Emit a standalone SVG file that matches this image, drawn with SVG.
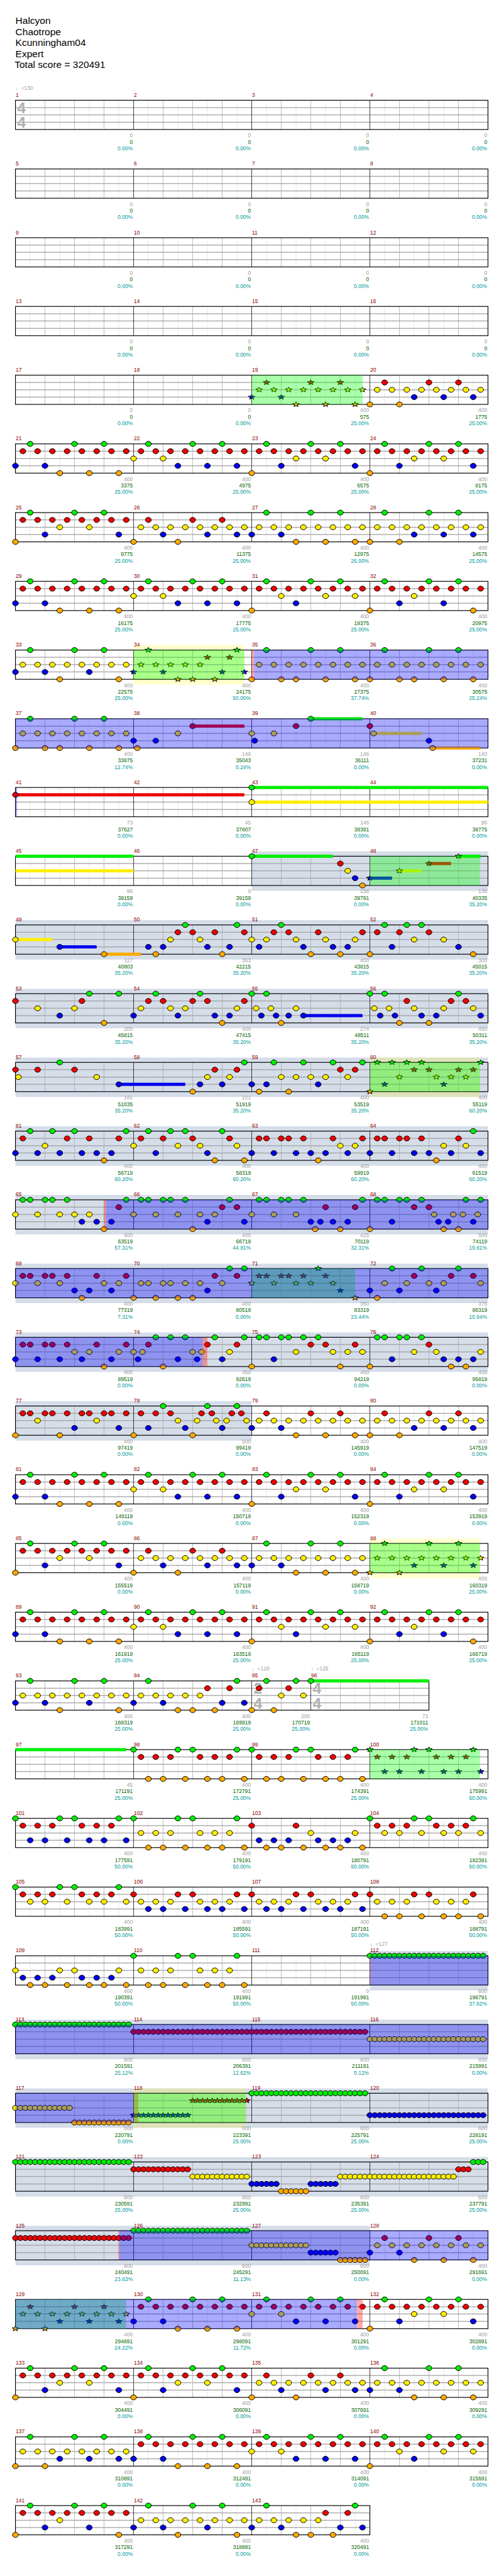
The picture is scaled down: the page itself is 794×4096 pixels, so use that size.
<svg xmlns="http://www.w3.org/2000/svg" width="794" height="4096" viewBox="0 0 794 4096">
<style>
text{font-family:"Liberation Sans",Arial,sans-serif;font-size:11px}
.h{font-size:20px;fill:#000}
.mn{fill:#8b0000}
.s1{fill:#a0a0a0;text-anchor:end}
.s2{fill:#006400;text-anchor:end}
.s3{fill:#009999;text-anchor:end}
.tp{fill:#a0a0a0;font-family:"Liberation Sans","DejaVu Sans",sans-serif}
.ts{font-size:32px;font-weight:bold;fill:#b0b0b0}
.l8{stroke:#e2e2e2;fill:none}
.lb{stroke:#a8a8a8;fill:none}
.ln{stroke:#a0a0a0;stroke-width:1.6;fill:none}
.ml{stroke:#000;fill:none}
.bd{fill:none;stroke:#000;stroke-width:1.5}
.gb{fill:#d5dde9}
.yl{fill:#ff0;fill-opacity:.2}
.gr{fill:#0f0;fill-opacity:.333}
.bl{fill:#00f;fill-opacity:.333}
.pk{fill:#f00;fill-opacity:.333}
</style>
<defs>
<ellipse id="n" rx=".3958" ry="5.2" stroke="#000" vector-effect="non-scaling-stroke"/>
<polygon id="s" points="0,-5.5 .1187,-1.9 .4617,-1.7 .1913,.7 .2836,4.5 0,2.4 -.2836,4.5 -.1913,.7 -.4617,-1.7 -.1187,-1.9" stroke="#000" vector-effect="non-scaling-stroke"/>
<use id="G" href="#n" fill="#0e0"/>
<use id="R" href="#n" y="15" fill="#e00"/>
<use id="Y" href="#n" y="30" fill="#fe0"/>
<use id="B" href="#n" y="45" fill="#00e"/>
<use id="O" href="#n" y="60" fill="#fa0"/>
<use id="SG" href="#s" fill="#0e0"/>
<use id="SR" href="#s" y="15" fill="#e00"/>
<use id="SY" href="#s" y="30" fill="#fe0"/>
<use id="SB" href="#s" y="45" fill="#00e"/>
<use id="SO" href="#s" y="60" fill="#fa0"/>
<g id="o8"><use href="#n" x="1"/><use href="#n" x="3"/><use href="#n" x="5"/><use href="#n" x="7"/><use href="#n" x="9"/><use href="#n" x="11"/><use href="#n" x="13"/><use href="#n" x="15"/></g>
<g id="so8"><use href="#s" x="1"/><use href="#s" x="3"/><use href="#s" x="5"/><use href="#s" x="7"/><use href="#s" x="9"/><use href="#s" x="11"/><use href="#s" x="13"/><use href="#s" x="15"/></g>
<g id="gp"><use href="#n" x="2"/><use href="#n" x="8"/><use href="#n" x="12"/></g>
<g id="gp4"><use href="#gp"/><use href="#gp" x="16"/><use href="#gp" x="32"/><use href="#gp" x="48"/></g>
<g id="o32"><use href="#o8"/><use href="#o8" x="16"/><use href="#o8" x="32"/><use href="#o8" x="48"/></g>
<g id="q4"><use href="#n"/><use href="#n" x="6"/><use href="#n" x="8"/><use href="#n" x="14"/></g>
<g id="k6"><use href="#n" x="1"/><use href="#n" x="3"/><use href="#n" x="5"/><use href="#n" x="9"/><use href="#n" x="11"/><use href="#n" x="13"/></g>
<g id="h6"><use href="#n" x="2"/><use href="#n" x="4"/><use href="#n" x="7"/><use href="#n" x="10"/><use href="#n" x="12"/><use href="#n" x="15"/></g>
<g id="sq4"><use href="#s"/><use href="#s" x="6"/><use href="#s" x="8"/><use href="#s" x="14"/></g>
<g id="sk6"><use href="#s" x="1"/><use href="#s" x="3"/><use href="#s" x="5"/><use href="#s" x="9"/><use href="#s" x="11"/><use href="#s" x="13"/></g>
<g id="sh6"><use href="#s" x="2"/><use href="#s" x="4"/><use href="#s" x="7"/><use href="#s" x="10"/><use href="#s" x="12"/><use href="#s" x="15"/></g>
<g id="t6"><use href="#n"/><use href="#n" x=".6667"/><use href="#n" x="1.3333"/><use href="#n" x="2"/><use href="#n" x="2.6667"/><use href="#n" x="3.3333"/></g>
<g id="t12"><use href="#t6"/><use href="#t6" x="4"/></g>
<g id="t24"><use href="#t12"/><use href="#t12" x="8"/></g>
<g id="st6"><use href="#s"/><use href="#s" x=".6667"/><use href="#s" x="1.3333"/><use href="#s" x="2"/><use href="#s" x="2.6667"/><use href="#s" x="3.3333"/></g>
<g id="st12"><use href="#st6"/><use href="#st6" x="4"/></g>
<g id="M"><path class="l8" d="M30.3 0V60M91 0V60M151.6 0V60M212.3 0V60"/><path class="lb" d="M60.6 0V60M121.3 0V60M181.9 0V60"/></g>
<g id="row"><use href="#M" x="31.7"/><use href="#M" x="274.3"/><use href="#M" x="516.8"/><use href="#M" x="759.4"/><path class="ln" d="M31.7 15H1001.9M31.7 30H1001.9M31.7 45H1001.9"/><path class="ml" d="M274.3 0V60M516.8 0V60M759.4 0V60"/><rect class="bd" x="31.7" y="0" width="970.2" height="60"/></g>
</defs>
<rect width="794" height="4096" fill="#fff"/>
<g transform="scale(0.775)">
<g id="header">
<text class="h" x="31.7" y="49">Halcyon</text>
<text class="h" x="31.7" y="71.7">Chaotrope</text>
<text class="h" x="31.7" y="94.3">Kcunningham04</text>
<text class="h" x="31.7" y="117">Expert</text>
<text class="h" x="30" y="139.7">Total score = 320491</text>
</g>

<g id="row1" transform="translate(0 205.7)">
<use href="#row"/>
<text class="ts" x="35" y="26.5">4</text><text class="ts" x="35" y="56.5">4</text>
<text class="tp" x="32" y="-21">♩=130</text>
<text class="mn" y="-7"><tspan x="32.2">1</tspan><tspan x="274.8">2</tspan><tspan x="517.3">3</tspan><tspan x="759.9">4</tspan></text>
<text class="s1" y="76"><tspan x="272.6">0</tspan><tspan x="515.1">0</tspan><tspan x="757.7">0</tspan><tspan x="1000.2">0</tspan></text>
<text class="s2" y="89.5"><tspan x="272.6">0</tspan><tspan x="515.1">0</tspan><tspan x="757.7">0</tspan><tspan x="1000.2">0</tspan></text>
<text class="s3" y="102.8"><tspan x="272.6">0.00%</tspan><tspan x="515.1">0.00%</tspan><tspan x="757.7">0.00%</tspan><tspan x="1000.2">0.00%</tspan></text>
</g>

<g id="row2" transform="translate(0 346.7)">
<use href="#row"/>
<text class="mn" y="-7"><tspan x="32.2">5</tspan><tspan x="274.8">6</tspan><tspan x="517.3">7</tspan><tspan x="759.9">8</tspan></text>
<text class="s1" y="76"><tspan x="272.6">0</tspan><tspan x="515.1">0</tspan><tspan x="757.7">0</tspan><tspan x="1000.2">0</tspan></text>
<text class="s2" y="89.5"><tspan x="272.6">0</tspan><tspan x="515.1">0</tspan><tspan x="757.7">0</tspan><tspan x="1000.2">0</tspan></text>
<text class="s3" y="102.8"><tspan x="272.6">0.00%</tspan><tspan x="515.1">0.00%</tspan><tspan x="757.7">0.00%</tspan><tspan x="1000.2">0.00%</tspan></text>
</g>

<g id="row3" transform="translate(0 487.7)">
<use href="#row"/>
<text class="mn" y="-7"><tspan x="32.2">9</tspan><tspan x="274.8">10</tspan><tspan x="517.3">11</tspan><tspan x="759.9">12</tspan></text>
<text class="s1" y="76"><tspan x="272.6">0</tspan><tspan x="515.1">0</tspan><tspan x="757.7">0</tspan><tspan x="1000.2">0</tspan></text>
<text class="s2" y="89.5"><tspan x="272.6">0</tspan><tspan x="515.1">0</tspan><tspan x="757.7">0</tspan><tspan x="1000.2">0</tspan></text>
<text class="s3" y="102.8"><tspan x="272.6">0.00%</tspan><tspan x="515.1">0.00%</tspan><tspan x="757.7">0.00%</tspan><tspan x="1000.2">0.00%</tspan></text>
</g>

<g id="row4" transform="translate(0 628.7)">
<use href="#row"/>
<text class="mn" y="-7"><tspan x="32.2">13</tspan><tspan x="274.8">14</tspan><tspan x="517.3">15</tspan><tspan x="759.9">16</tspan></text>
<text class="s1" y="76"><tspan x="272.6">0</tspan><tspan x="515.1">0</tspan><tspan x="757.7">0</tspan><tspan x="1000.2">0</tspan></text>
<text class="s2" y="89.5"><tspan x="272.6">0</tspan><tspan x="515.1">0</tspan><tspan x="757.7">0</tspan><tspan x="1000.2">0</tspan></text>
<text class="s3" y="102.8"><tspan x="272.6">0.00%</tspan><tspan x="515.1">0.00%</tspan><tspan x="757.7">0.00%</tspan><tspan x="1000.2">0.00%</tspan></text>
</g>

<g id="row5" transform="translate(0 769.7)">
<use href="#row"/>
<g transform="translate(31.7 0) scale(15.16 1)">
<use href="#SB" x="32"/><use href="#so8" x="32" y="30" fill="#fe0"/><use href="#SR" x="34"/><use href="#SB" x="36"/><use href="#SO" x="38"/><use href="#SR" x="40"/><use href="#SO" x="42"/><use href="#SR" x="44"/><use href="#SO" x="46"/>
<use href="#O" x="48"/><use href="#o8" x="48" y="30" fill="#fe0"/><use href="#R" x="50"/><use href="#O" x="52"/><use href="#B" x="54"/><use href="#R" x="56"/><use href="#B" x="58"/><use href="#R" x="60"/><use href="#B" x="62"/>
</g>
<rect class="gr" x="516.8" y="0" width="227.8" height="60"/>
<text class="mn" y="-7"><tspan x="32.2">17</tspan><tspan x="274.8">18</tspan><tspan x="517.3">19</tspan><tspan x="759.9">20</tspan></text>
<text class="s1" y="76"><tspan x="272.6">0</tspan><tspan x="515.1">0</tspan><tspan x="757.7">400</tspan><tspan x="1000.2">400</tspan></text>
<text class="s2" y="89.5"><tspan x="272.6">0</tspan><tspan x="515.1">0</tspan><tspan x="757.7">575</tspan><tspan x="1000.2">1775</tspan></text>
<text class="s3" y="102.8"><tspan x="272.6">0.00%</tspan><tspan x="515.1">0.00%</tspan><tspan x="757.7">25.00%</tspan><tspan x="1000.2">25.00%</tspan></text>
</g>

<g id="row6" transform="translate(0 910.7)">
<use href="#row"/>
<g transform="translate(31.7 0) scale(15.16 1)">
<g id="N5"><use href="#gp4" fill="#0e0"/><use href="#o32" y="15" fill="#e00"/><use href="#Y" x="16"/><use href="#Y" x="20"/><use href="#Y" x="38"/><use href="#Y" x="42"/><use href="#Y" x="54"/><use href="#Y" x="58"/><use href="#B"/><use href="#B" x="4"/><use href="#B" x="22"/><use href="#B" x="26"/><use href="#B" x="30"/><use href="#B" x="36"/><use href="#B" x="46"/><use href="#B" x="52"/><use href="#B" x="62"/><use href="#O" x="6"/><use href="#O" x="10"/><use href="#O" x="14"/><use href="#O" x="32"/><use href="#O" x="48"/></g>
</g>
<text class="mn" y="-7"><tspan x="32.2">21</tspan><tspan x="274.8">22</tspan><tspan x="517.3">23</tspan><tspan x="759.9">24</tspan></text>
<text class="s1" y="76"><tspan x="272.6">400</tspan><tspan x="515.1">400</tspan><tspan x="757.7">400</tspan><tspan x="1000.2">400</tspan></text>
<text class="s2" y="89.5"><tspan x="272.6">3375</tspan><tspan x="515.1">4975</tspan><tspan x="757.7">6575</tspan><tspan x="1000.2">8175</tspan></text>
<text class="s3" y="102.8"><tspan x="272.6">25.00%</tspan><tspan x="515.1">25.00%</tspan><tspan x="757.7">25.00%</tspan><tspan x="1000.2">25.00%</tspan></text>
</g>

<g id="row7" transform="translate(0 1051.7)">
<use href="#row"/>
<g transform="translate(31.7 0) scale(15.16 1)">
<g id="N6a"><use href="#gp" fill="#0e0"/><use href="#gp" x="32" fill="#0e0"/><use href="#o8" y="15" fill="#e00"/><use href="#R" x="18"/><use href="#R" x="24"/><use href="#R" x="28"/><use href="#Y" x="6"/><use href="#Y" x="10"/><use href="#o8" x="16" y="30" fill="#fe0"/><use href="#o8" x="32" y="30" fill="#fe0"/><use href="#B" x="4"/><use href="#B" x="14"/><use href="#B" x="20"/><use href="#B" x="26"/><use href="#B" x="30"/><use href="#B" x="32"/><use href="#B" x="36"/><use href="#O"/><use href="#O" x="16"/><use href="#O" x="22"/><use href="#O" x="38"/><use href="#O" x="42"/><use href="#O" x="46"/></g>
<use href="#gp" x="48" fill="#0e0"/><use href="#o8" x="48" y="30" fill="#fe0"/><use href="#B" x="54"/><use href="#B" x="58"/><use href="#B" x="62"/><use href="#O" x="48"/><use href="#O" x="52"/>
</g>
<text class="mn" y="-7"><tspan x="32.2">25</tspan><tspan x="274.8">26</tspan><tspan x="517.3">27</tspan><tspan x="759.9">28</tspan></text>
<text class="s1" y="76"><tspan x="272.6">400</tspan><tspan x="515.1">400</tspan><tspan x="757.7">400</tspan><tspan x="1000.2">400</tspan></text>
<text class="s2" y="89.5"><tspan x="272.6">9775</tspan><tspan x="515.1">11375</tspan><tspan x="757.7">12975</tspan><tspan x="1000.2">14575</tspan></text>
<text class="s3" y="102.8"><tspan x="272.6">25.00%</tspan><tspan x="515.1">25.00%</tspan><tspan x="757.7">25.00%</tspan><tspan x="1000.2">25.00%</tspan></text>
</g>

<g id="row8" transform="translate(0 1192.7)">
<use href="#row"/>
<g transform="translate(31.7 0) scale(15.16 1)">
<g id="N7"><use href="#gp4" fill="#0e0"/><use href="#o32" y="15" fill="#e00"/><use href="#Y" x="16"/><use href="#Y" x="20"/><use href="#Y" x="36"/><use href="#Y" x="42"/><use href="#Y" x="46"/><use href="#Y" x="54"/><use href="#B"/><use href="#B" x="4"/><use href="#B" x="22"/><use href="#B" x="26"/><use href="#B" x="30"/><use href="#B" x="38"/><use href="#B" x="52"/><use href="#B" x="58"/><use href="#O" x="6"/><use href="#O" x="10"/><use href="#O" x="14"/><use href="#O" x="32"/><use href="#O" x="48"/><use href="#O" x="62"/></g>
</g>
<text class="mn" y="-7"><tspan x="32.2">29</tspan><tspan x="274.8">30</tspan><tspan x="517.3">31</tspan><tspan x="759.9">32</tspan></text>
<text class="s1" y="76"><tspan x="272.6">400</tspan><tspan x="515.1">400</tspan><tspan x="757.7">400</tspan><tspan x="1000.2">400</tspan></text>
<text class="s2" y="89.5"><tspan x="272.6">16175</tspan><tspan x="515.1">17775</tspan><tspan x="757.7">19375</tspan><tspan x="1000.2">20975</tspan></text>
<text class="s3" y="102.8"><tspan x="272.6">25.00%</tspan><tspan x="515.1">25.00%</tspan><tspan x="757.7">25.00%</tspan><tspan x="1000.2">25.00%</tspan></text>
</g>

<g id="row9" transform="translate(0 1333.7)">
<rect class="yl" x="274.3" y="-10.5" width="227.4" height="81.5"/>
<use href="#row"/>
<g transform="translate(31.7 0) scale(15.16 1)">
<use href="#gp" fill="#0e0"/><use href="#o8" y="30" fill="#fe0"/><use href="#B"/><use href="#B" x="4"/><use href="#B" x="10"/><use href="#O" x="6"/><use href="#O" x="14"/>
<use href="#SB" x="16"/><use href="#SY" x="17"/><use href="#SG" x="18"/><use href="#SY" x="19"/><use href="#SB" x="20"/><use href="#SY" x="21"/><use href="#SO" x="22"/><use href="#SY" x="23"/><use href="#SO" x="24"/><use href="#SY" x="25"/><use href="#SR" x="26"/><use href="#SO" x="27"/><use href="#SB" x="28"/><use href="#SR" x="29"/><use href="#SG" x="30"/><use href="#SB" x="31"/>
<use href="#gp" x="32" fill="#0e0"/><use href="#gp" x="48" fill="#0e0"/><use href="#o8" x="32" y="30" fill="#fe0"/><use href="#o8" x="48" y="30" fill="#fe0"/><use href="#O" x="32"/><use href="#O" x="36"/><use href="#O" x="38"/><use href="#O" x="42"/><use href="#O" x="46"/><use href="#O" x="48"/><use href="#O" x="52"/><use href="#O" x="54"/><use href="#O" x="58"/><use href="#O" x="62"/>
</g>
<rect class="gr" x="274.3" y="0" width="227.4" height="60"/>
<rect class="pk" x="516.8" y="0" width="4.7" height="60"/>
<rect class="bl" x="521.5" y="0" width="480.4" height="60"/>
<text class="mn" y="-7"><tspan x="32.2">33</tspan><tspan x="274.8">34</tspan><tspan x="517.3">35</tspan><tspan x="759.9">36</tspan></text>
<text class="s1" y="76"><tspan x="272.6">400</tspan><tspan x="515.1">400</tspan><tspan x="757.7">400</tspan><tspan x="1000.2">400</tspan></text>
<text class="s2" y="89.5"><tspan x="272.6">22575</tspan><tspan x="515.1">24175</tspan><tspan x="757.7">27375</tspan><tspan x="1000.2">30575</tspan></text>
<text class="s3" y="102.8"><tspan x="272.6">25.00%</tspan><tspan x="515.1">50.00%</tspan><tspan x="757.7">37.74%</tspan><tspan x="1000.2">25.24%</tspan></text>
</g>

<g id="row10" transform="translate(0 1474.7)">
<use href="#row"/>
<g transform="translate(31.7 0) scale(15.16 1)">
<rect x="40" y="-3.25" width="7" height="6.5" fill="#0e0"/><rect x="24" y="11.75" width="7" height="6.5" fill="#e00"/><rect x="48.5" y="26.75" width="6.5" height="6.5" fill="#fe0"/><rect x="56.5" y="56.75" width="6.5" height="6.5" fill="#fa0"/>
<use href="#gp" fill="#0e0"/><use href="#G" x="40"/><use href="#R" x="24"/><use href="#R" x="38"/><use href="#R" x="48"/><use href="#o8" y="30" fill="#fe0"/><use href="#Y" x="22"/><use href="#Y" x="32"/><use href="#Y" x="35"/><use href="#Y" x="48.5"/><use href="#B" x="16"/><use href="#B" x="19"/><use href="#B" x="32.4"/><use href="#B" x="56"/><use href="#O"/><use href="#O" x="4"/><use href="#O" x="6"/><use href="#O" x="10"/><use href="#O" x="14"/><use href="#O" x="16.5"/><use href="#O" x="56.5"/>
</g>
<rect class="bl" x="31.7" y="0" width="970.2" height="60"/>
<text class="mn" y="-7"><tspan x="32.2">37</tspan><tspan x="274.8">38</tspan><tspan x="517.3">39</tspan><tspan x="759.9">40</tspan></text>
<text class="s1" y="76"><tspan x="272.6">400</tspan><tspan x="515.1">146</tspan><tspan x="757.7">146</tspan><tspan x="1000.2">140</tspan></text>
<text class="s2" y="89.5"><tspan x="272.6">33875</tspan><tspan x="515.1">35043</tspan><tspan x="757.7">36111</tspan><tspan x="1000.2">37231</tspan></text>
<text class="s3" y="102.8"><tspan x="272.6">12.74%</tspan><tspan x="515.1">0.24%</tspan><tspan x="757.7">0.00%</tspan><tspan x="1000.2">0.00%</tspan></text>
</g>

<g id="row11" transform="translate(0 1615.7)">
<use href="#row"/>
<g transform="translate(31.7 0) scale(15.16 1)">
<rect x="0" y="11.75" width="31" height="6.5" fill="#e00"/><rect x="32" y="-3.25" width="32" height="6.5" fill="#0e0"/><rect x="32" y="26.75" width="32" height="6.5" fill="#fe0"/>
<use href="#R"/><use href="#G" x="32"/><use href="#Y" x="32"/>
</g>
<rect class="bl" x="31.7" y="0" width="3.3" height="60"/>
<text class="mn" y="-7"><tspan x="32.2">41</tspan><tspan x="274.8">42</tspan><tspan x="517.3">43</tspan><tspan x="759.9">44</tspan></text>
<text class="s1" y="76"><tspan x="272.6">73</tspan><tspan x="515.1">45</tspan><tspan x="757.7">146</tspan><tspan x="1000.2">96</tspan></text>
<text class="s2" y="89.5"><tspan x="272.6">37627</tspan><tspan x="515.1">37807</tspan><tspan x="757.7">38391</tspan><tspan x="1000.2">38775</tspan></text>
<text class="s3" y="102.8"><tspan x="272.6">0.00%</tspan><tspan x="515.1">0.00%</tspan><tspan x="757.7">0.00%</tspan><tspan x="1000.2">0.00%</tspan></text>
</g>

<g id="row12" transform="translate(0 1756.7)">
<rect class="gb" x="516.8" y="-10" width="485.1" height="81"/>
<use href="#row"/>
<g transform="translate(31.7 0) scale(15.16 1)">
<rect x="0" y="-3.25" width="16" height="6.5" fill="#0e0"/><rect x="0" y="26.75" width="16" height="6.5" fill="#fe0"/><rect x="32" y="-3.25" width="11" height="6.5" fill="#0e0"/><rect x="48" y="41.75" width="3" height="6.5" fill="#00e"/><rect x="52" y="26.75" width="3" height="6.5" fill="#fe0"/><rect x="56" y="11.75" width="3" height="6.5" fill="#e00"/><rect x="60" y="-3.25" width="3" height="6.5" fill="#0e0"/>
<use href="#G" x="32"/><use href="#R" x="44"/><use href="#Y" x="45"/><use href="#B" x="46"/><use href="#O" x="47"/><use href="#SB" x="48"/><use href="#SY" x="52"/><use href="#SR" x="56"/><use href="#SG" x="60"/>
</g>
<rect class="gr" x="759.4" y="0" width="226.1" height="60"/>
<text class="mn" y="-7"><tspan x="32.2">45</tspan><tspan x="274.8">46</tspan><tspan x="517.3">47</tspan><tspan x="759.9">48</tspan></text>
<text class="s1" y="76"><tspan x="272.6">96</tspan><tspan x="515.1">0</tspan><tspan x="757.7">158</tspan><tspan x="1000.2">136</tspan></text>
<text class="s2" y="89.5"><tspan x="272.6">39159</tspan><tspan x="515.1">39159</tspan><tspan x="757.7">39791</tspan><tspan x="1000.2">40335</tspan></text>
<text class="s3" y="102.8"><tspan x="272.6">0.00%</tspan><tspan x="515.1">0.00%</tspan><tspan x="757.7">0.00%</tspan><tspan x="1000.2">35.20%</tspan></text>
</g>

<g id="row13" transform="translate(0 1897.7)">
<rect class="gb" x="31.7" y="-10" width="970.2" height="81"/>
<use href="#row"/>
<g transform="translate(31.7 0) scale(15.16 1)">
<rect x="0" y="26.75" width="5" height="6.5" fill="#fe0"/><rect x="6" y="41.75" width="5" height="6.5" fill="#00e"/><rect x="12" y="56.75" width="5" height="6.5" fill="#fa0"/>
<use href="#G" x="23"/><use href="#G" x="30"/><use href="#G" x="36"/><use href="#G" x="50"/><use href="#G" x="53"/><use href="#G" x="55"/>
<use href="#R" x="22"/><use href="#R" x="24"/><use href="#R" x="27"/><use href="#R" x="31"/><use href="#R" x="35"/><use href="#R" x="37"/><use href="#R" x="41"/><use href="#R" x="47"/><use href="#R" x="49"/><use href="#R" x="52"/><use href="#R" x="56"/>
<use href="#Y"/><use href="#Y" x="21"/><use href="#Y" x="25"/><use href="#Y" x="32"/><use href="#Y" x="34"/><use href="#Y" x="38"/><use href="#Y" x="42"/><use href="#Y" x="46"/><use href="#Y" x="54"/><use href="#Y" x="58"/>
<use href="#B" x="6"/><use href="#B" x="18"/><use href="#B" x="20"/><use href="#B" x="26"/><use href="#B" x="29"/><use href="#B" x="33"/><use href="#B" x="39"/><use href="#B" x="43"/><use href="#B" x="45"/><use href="#B" x="51"/><use href="#B" x="60"/>
<use href="#O" x="12"/><use href="#O" x="19"/><use href="#O" x="28"/><use href="#O" x="40"/><use href="#O" x="44"/><use href="#O" x="48"/><use href="#O" x="62"/>
</g>
<text class="mn" y="-7"><tspan x="32.2">49</tspan><tspan x="274.8">50</tspan><tspan x="517.3">51</tspan><tspan x="759.9">52</tspan></text>
<text class="s1" y="76"><tspan x="272.6">117</tspan><tspan x="515.1">353</tspan><tspan x="757.7">400</tspan><tspan x="1000.2">300</tspan></text>
<text class="s2" y="89.5"><tspan x="272.6">40803</tspan><tspan x="515.1">42215</tspan><tspan x="757.7">43815</tspan><tspan x="1000.2">45015</tspan></text>
<text class="s3" y="102.8"><tspan x="272.6">35.20%</tspan><tspan x="515.1">35.20%</tspan><tspan x="757.7">35.20%</tspan><tspan x="1000.2">35.20%</tspan></text>
</g>

<g id="row14" transform="translate(0 2038.7)">
<rect class="gb" x="31.7" y="-10" width="970.2" height="81"/>
<use href="#row"/>
<g transform="translate(31.7 0) scale(15.16 1)">
<rect x="39" y="41.75" width="8" height="6.5" fill="#00e"/>
<use href="#G" x="10"/><use href="#G" x="14"/><use href="#G" x="19"/><use href="#G" x="25"/><use href="#G" x="32"/><use href="#G" x="34"/><use href="#G" x="48"/><use href="#G" x="50"/><use href="#G" x="60"/>
<use href="#R"/><use href="#R" x="9"/><use href="#R" x="18"/><use href="#R" x="20"/><use href="#R" x="24"/><use href="#R" x="26"/><use href="#R" x="31"/><use href="#R" x="53"/><use href="#R" x="59"/><use href="#R" x="61"/>
<use href="#Y" x="3"/><use href="#Y" x="8"/><use href="#Y" x="17"/><use href="#Y" x="21"/><use href="#Y" x="23"/><use href="#Y" x="30"/><use href="#Y" x="32.6"/><use href="#Y" x="34.6"/><use href="#Y" x="38"/><use href="#Y" x="48.6"/><use href="#Y" x="50.6"/><use href="#Y" x="54"/><use href="#Y" x="58"/><use href="#Y" x="62"/>
<use href="#B" x="6"/><use href="#B" x="16"/><use href="#B" x="22"/><use href="#B" x="27"/><use href="#B" x="29"/><use href="#B" x="33.3"/><use href="#B" x="35.3"/><use href="#B" x="37"/><use href="#B" x="39"/><use href="#B" x="49.4"/><use href="#B" x="51.4"/><use href="#B" x="55"/><use href="#B" x="57"/><use href="#B" x="63"/>
<use href="#O" x="12"/><use href="#O" x="28"/><use href="#O" x="36"/><use href="#O" x="52"/><use href="#O" x="56"/>
</g>
<text class="mn" y="-7"><tspan x="32.2">53</tspan><tspan x="274.8">54</tspan><tspan x="517.3">55</tspan><tspan x="759.9">56</tspan></text>
<text class="s1" y="76"><tspan x="272.6">200</tspan><tspan x="515.1">400</tspan><tspan x="757.7">274</tspan><tspan x="1000.2">450</tspan></text>
<text class="s2" y="89.5"><tspan x="272.6">45815</tspan><tspan x="515.1">47415</tspan><tspan x="757.7">48511</tspan><tspan x="1000.2">50311</tspan></text>
<text class="s3" y="102.8"><tspan x="272.6">35.20%</tspan><tspan x="515.1">35.20%</tspan><tspan x="757.7">35.20%</tspan><tspan x="1000.2">35.20%</tspan></text>
</g>

<g id="row15" transform="translate(0 2179.7)">
<rect class="gb" x="31.7" y="-10" width="970.2" height="81"/>
<rect class="yl" x="759.4" y="-10" width="226.1" height="81"/>
<use href="#row"/>
<g transform="translate(31.7 0) scale(15.16 1)">
<rect x="14" y="41.75" width="9" height="6.5" fill="#00e"/>
<use href="#G" x="6"/><use href="#G" x="31"/><use href="#G" x="35"/><use href="#G" x="39"/><use href="#G" x="43"/><use href="#G" x="47"/>
<use href="#R"/><use href="#R" x="3"/><use href="#R" x="8"/><use href="#R" x="27"/><use href="#R" x="30"/><use href="#R" x="44"/><use href="#R" x="46"/>
<use href="#Y" x=".4"/><use href="#Y" x="11"/><use href="#Y" x="26"/><use href="#Y" x="29"/><use href="#Y" x="36"/><use href="#Y" x="38"/><use href="#Y" x="40"/><use href="#Y" x="42"/><use href="#Y" x="45"/>
<use href="#B" x="14"/><use href="#B" x="25"/><use href="#B" x="28"/><use href="#B" x="32"/><use href="#B" x="34"/><use href="#B" x="41"/>
<use href="#O" x="24"/><use href="#O" x="33"/><use href="#O" x="37"/>
<use href="#SO" x="48"/><use href="#SG" x="49"/><use href="#SB" x="50"/><use href="#SG" x="51"/><use href="#SY" x="52"/><use href="#SG" x="53"/><use href="#SR" x="54"/><use href="#SG" x="55"/><use href="#SR" x="56"/><use href="#SY" x="57"/><use href="#SB" x="58"/><use href="#SY" x="59"/><use href="#SR" x="60"/><use href="#SY" x="61"/><use href="#SR" x="62"/><use href="#SG" x="63"/>
</g>
<rect class="gr" x="759.4" y="0" width="226.1" height="60"/>
<text class="mn" y="-7"><tspan x="32.2">57</tspan><tspan x="274.8">58</tspan><tspan x="517.3">59</tspan><tspan x="759.9">60</tspan></text>
<text class="s1" y="76"><tspan x="272.6">181</tspan><tspan x="515.1">221</tspan><tspan x="757.7">400</tspan><tspan x="1000.2">400</tspan></text>
<text class="s2" y="89.5"><tspan x="272.6">51035</tspan><tspan x="515.1">51919</tspan><tspan x="757.7">53519</tspan><tspan x="1000.2">55119</tspan></text>
<text class="s3" y="102.8"><tspan x="272.6">35.20%</tspan><tspan x="515.1">35.20%</tspan><tspan x="757.7">35.20%</tspan><tspan x="1000.2">60.20%</tspan></text>
</g>

<g id="row16" transform="translate(0 2320.7)">
<rect class="gb" x="31.7" y="-10" width="970.2" height="81"/>
<use href="#row"/>
<g transform="translate(31.7 0) scale(15.16 1)">
<use href="#G" x="2"/><use href="#G" x="5"/><use href="#G" x="8"/><use href="#G" x="15"/><use href="#G" x="18"/><use href="#G" x="21"/><use href="#G" x="23"/><use href="#G" x="28"/><use href="#G" x="62"/>
<use href="#R" x="1"/><use href="#R" x="7"/><use href="#R" x="10"/><use href="#R" x="14"/><use href="#R" x="17"/><use href="#R" x="20"/><use href="#R" x="24"/><use href="#R" x="29"/><use href="#R" x="33"/><use href="#R" x="34"/><use href="#R" x="36"/><use href="#R" x="37"/><use href="#R" x="39"/><use href="#R" x="43"/><use href="#R" x="47"/><use href="#R" x="49"/><use href="#R" x="50"/><use href="#R" x="52"/><use href="#R" x="53"/><use href="#R" x="55"/><use href="#R" x="60"/>
<use href="#Y" x="4"/><use href="#Y" x="16"/><use href="#Y" x="22"/><use href="#Y" x="25"/><use href="#Y" x="30"/><use href="#Y" x="44"/><use href="#Y" x="46"/><use href="#Y" x="58"/><use href="#Y" x="61"/>
<use href="#B"/><use href="#B" x="3"/><use href="#B" x="6"/><use href="#B" x="9"/><use href="#B" x="11"/><use href="#B" x="13"/><use href="#B" x="19"/><use href="#B" x="26"/><use href="#B" x="32"/><use href="#B" x="35"/><use href="#B" x="38"/><use href="#B" x="40"/><use href="#B" x="42"/><use href="#B" x="45"/><use href="#B" x="48"/><use href="#B" x="51"/><use href="#B" x="54"/><use href="#B" x="56"/><use href="#B" x="59"/><use href="#B" x="63"/>
<use href="#O" x="12"/><use href="#O" x="27"/><use href="#O" x="31"/><use href="#O" x="41"/><use href="#O" x="57"/>
</g>
<text class="mn" y="-7"><tspan x="32.2">61</tspan><tspan x="274.8">62</tspan><tspan x="517.3">63</tspan><tspan x="759.9">64</tspan></text>
<text class="s1" y="76"><tspan x="272.6">400</tspan><tspan x="515.1">400</tspan><tspan x="757.7">400</tspan><tspan x="1000.2">400</tspan></text>
<text class="s2" y="89.5"><tspan x="272.6">56719</tspan><tspan x="515.1">58319</tspan><tspan x="757.7">59919</tspan><tspan x="1000.2">61519</tspan></text>
<text class="s3" y="102.8"><tspan x="272.6">60.20%</tspan><tspan x="515.1">60.20%</tspan><tspan x="757.7">60.20%</tspan><tspan x="1000.2">60.20%</tspan></text>
</g>

<g id="row17" transform="translate(0 2461.7)">
<rect class="gb" x="31.7" y="-10" width="970.2" height="81"/>
<use href="#row"/>
<g transform="translate(31.7 0) scale(15.16 1)">
<use href="#G" x="1"/><use href="#G" x="2"/><use href="#G" x="4"/><use href="#G" x="5"/><use href="#G" x="7"/><use href="#G" x="15"/><use href="#G" x="17"/><use href="#G" x="18"/><use href="#G" x="20"/><use href="#G" x="21"/><use href="#G" x="23"/><use href="#G" x="29"/><use href="#G" x="33"/><use href="#G" x="34"/><use href="#G" x="36"/><use href="#G" x="37"/><use href="#G" x="39"/><use href="#G" x="47"/><use href="#G" x="49"/><use href="#G" x="50"/><use href="#G" x="52"/><use href="#G" x="53"/><use href="#G" x="55"/><use href="#G" x="61"/><use href="#G" x="63"/>
<use href="#R" x="14"/><use href="#R" x="28"/><use href="#R" x="30"/><use href="#R" x="42"/><use href="#R" x="46"/><use href="#R" x="54"/><use href="#R" x="56"/>
<use href="#Y"/><use href="#Y" x="3"/><use href="#Y" x="6"/><use href="#Y" x="8"/><use href="#Y" x="10"/><use href="#Y" x="16"/><use href="#Y" x="19"/><use href="#Y" x="22"/><use href="#Y" x="25"/><use href="#Y" x="27"/><use href="#Y" x="32"/><use href="#Y" x="35"/><use href="#Y" x="38"/><use href="#Y" x="56.7"/><use href="#Y" x="59.3"/><use href="#Y" x="60.6"/><use href="#Y" x="62.6"/>
<use href="#B" x="9"/><use href="#B" x="11"/><use href="#B" x="13"/><use href="#B" x="26"/><use href="#B" x="31"/><use href="#B" x="40"/><use href="#B" x="41.3"/><use href="#B" x="43"/><use href="#B" x="45"/><use href="#B" x="51"/><use href="#B" x="57.3"/><use href="#B" x="58.6"/><use href="#B" x="62"/>
<use href="#O" x="12"/><use href="#O" x="24"/><use href="#O" x="40.6"/><use href="#O" x="44"/><use href="#O" x="48"/><use href="#O" x="58"/><use href="#O" x="60"/>
</g>
<rect class="pk" x="213.2" y="0" width="4.6" height="60"/>
<rect class="bl" x="217.8" y="0" width="784.1" height="60"/>
<text class="mn" y="-7"><tspan x="32.2">65</tspan><tspan x="274.8">66</tspan><tspan x="517.3">67</tspan><tspan x="759.9">68</tspan></text>
<text class="s1" y="76"><tspan x="272.6">400</tspan><tspan x="515.1">400</tspan><tspan x="757.7">425</tspan><tspan x="1000.2">500</tspan></text>
<text class="s2" y="89.5"><tspan x="272.6">63519</tspan><tspan x="515.1">66719</tspan><tspan x="757.7">70119</tspan><tspan x="1000.2">74119</tspan></text>
<text class="s3" y="102.8"><tspan x="272.6">57.31%</tspan><tspan x="515.1">44.81%</tspan><tspan x="757.7">32.31%</tspan><tspan x="1000.2">19.81%</tspan></text>
</g>

<g id="row18" transform="translate(0 2602.7)">
<rect class="gb" x="31.7" y="-10" width="970.2" height="81"/>
<use href="#row"/>
<g transform="translate(31.7 0) scale(15.16 1)">
<use href="#G" x="29"/><use href="#G" x="31"/><use href="#G" x="51"/><use href="#G" x="55"/><use href="#G" x="60"/><use href="#SG" x="41"/>
<use href="#R" x="1"/><use href="#R" x="2"/><use href="#R" x="4"/><use href="#R" x="5"/><use href="#R" x="7"/><use href="#R" x="11"/><use href="#R" x="15"/><use href="#R" x="27"/><use href="#R" x="30"/><use href="#R" x="54"/><use href="#R" x="59"/><use href="#R" x="62"/><use href="#SR" x="33"/><use href="#SR" x="34"/><use href="#SR" x="36"/><use href="#SR" x="37"/><use href="#SR" x="39"/><use href="#SR" x="42"/>
<use href="#Y"/><use href="#Y" x="3"/><use href="#Y" x="6"/><use href="#Y" x="12"/><use href="#Y" x="14"/><use href="#Y" x="17"/><use href="#Y" x="18"/><use href="#Y" x="20"/><use href="#Y" x="21"/><use href="#Y" x="23"/><use href="#Y" x="25"/><use href="#Y" x="28"/><use href="#Y" x="50"/><use href="#Y" x="53"/><use href="#Y" x="56"/><use href="#Y" x="58"/><use href="#Y" x="63"/><use href="#SY" x="32"/><use href="#SY" x="35"/><use href="#SY" x="38"/><use href="#SY" x="40"/><use href="#SY" x="43"/>
<use href="#B" x="8"/><use href="#B" x="10"/><use href="#B" x="13"/><use href="#B" x="26"/><use href="#B" x="48"/><use href="#B" x="52"/><use href="#B" x="57"/><use href="#SB" x="44"/>
<use href="#O" x="9"/><use href="#O" x="16"/><use href="#O" x="19"/><use href="#O" x="22"/><use href="#O" x="24"/><use href="#O" x="49"/><use href="#SO" x="46"/>
</g>
<rect class="gr" x="516.8" y="0" width="212.6" height="60"/>
<rect class="bl" x="31.7" y="0" width="970.2" height="60"/>
<text class="mn" y="-7"><tspan x="32.2">69</tspan><tspan x="274.8">70</tspan><tspan x="517.3">71</tspan><tspan x="759.9">72</tspan></text>
<text class="s1" y="76"><tspan x="272.6">400</tspan><tspan x="515.1">400</tspan><tspan x="757.7">350</tspan><tspan x="1000.2">375</tspan></text>
<text class="s2" y="89.5"><tspan x="272.6">77319</tspan><tspan x="515.1">80519</tspan><tspan x="757.7">83319</tspan><tspan x="1000.2">86319</tspan></text>
<text class="s3" y="102.8"><tspan x="272.6">7.31%</tspan><tspan x="515.1">0.00%</tspan><tspan x="757.7">23.44%</tspan><tspan x="1000.2">10.94%</tspan></text>
</g>

<g id="row19" transform="translate(0 2743.7)">
<rect class="gb" x="31.7" y="-10" width="970.2" height="81"/>
<use href="#row"/>
<g transform="translate(31.7 0) scale(15.16 1)">
<use href="#G" x="19"/><use href="#G" x="21"/><use href="#G" x="23"/><use href="#G" x="27"/><use href="#G" x="31"/><use href="#G" x="33"/><use href="#G" x="34"/><use href="#G" x="36"/><use href="#G" x="37"/><use href="#G" x="39"/><use href="#G" x="41"/><use href="#G" x="49"/><use href="#G" x="50"/><use href="#G" x="52"/><use href="#G" x="53"/><use href="#G" x="55"/>
<use href="#R" x="1"/><use href="#R" x="2"/><use href="#R" x="4"/><use href="#R" x="5"/><use href="#R" x="7"/><use href="#R" x="11"/><use href="#R" x="15"/><use href="#R" x="18"/><use href="#R" x="26"/><use href="#R" x="30"/><use href="#R" x="40"/><use href="#R" x="42"/><use href="#R" x="46"/><use href="#R" x="56"/>
<use href="#Y" x="8"/><use href="#Y" x="10"/><use href="#Y" x="14"/><use href="#Y" x="16"/><use href="#Y" x="17.2"/><use href="#Y" x="24"/><use href="#Y" x="25.2"/><use href="#Y" x="29"/><use href="#Y" x="38"/><use href="#Y" x="43"/><use href="#Y" x="45"/><use href="#Y" x="47"/><use href="#Y" x="54"/><use href="#Y" x="57"/><use href="#Y" x="63"/>
<use href="#B"/><use href="#B" x="3"/><use href="#B" x="6"/><use href="#B" x="9"/><use href="#B" x="13"/><use href="#B" x="16.6"/><use href="#B" x="22"/><use href="#B" x="24.6"/><use href="#B" x="28"/><use href="#B" x="35"/><use href="#B" x="51"/><use href="#B" x="58"/><use href="#B" x="60"/><use href="#B" x="62"/>
<use href="#O" x="12"/><use href="#O" x="20"/><use href="#O" x="32"/><use href="#O" x="44"/><use href="#O" x="48"/><use href="#O" x="59"/><use href="#O" x="61"/>
</g>
<rect class="bl" x="31.7" y="0" width="384.1" height="60"/>
<rect class="pk" x="415.8" y="0" width="9.9" height="60"/>
<text class="mn" y="-7"><tspan x="32.2">73</tspan><tspan x="274.8">74</tspan><tspan x="517.3">75</tspan><tspan x="759.9">76</tspan></text>
<text class="s1" y="76"><tspan x="272.6">400</tspan><tspan x="515.1">450</tspan><tspan x="757.7">400</tspan><tspan x="1000.2">400</tspan></text>
<text class="s2" y="89.5"><tspan x="272.6">89519</tspan><tspan x="515.1">92619</tspan><tspan x="757.7">94219</tspan><tspan x="1000.2">95819</tspan></text>
<text class="s3" y="102.8"><tspan x="272.6">0.00%</tspan><tspan x="515.1">0.00%</tspan><tspan x="757.7">0.00%</tspan><tspan x="1000.2">0.00%</tspan></text>
</g>

<g id="row20" transform="translate(0 2884.7)">
<rect class="gb" x="31.7" y="-10" width="485.1" height="81"/>
<use href="#row"/>
<g transform="translate(31.7 0) scale(15.16 1)">
<use href="#G" x="20"/><use href="#G" x="26"/><use href="#G" x="30"/>
<use href="#R" x="1"/><use href="#R" x="2"/><use href="#R" x="4"/><use href="#R" x="5"/><use href="#R" x="7"/><use href="#R" x="9"/><use href="#R" x="10"/><use href="#R" x="12"/><use href="#R" x="13"/><use href="#R" x="15"/><use href="#R" x="17"/><use href="#R" x="19"/><use href="#R" x="21"/><use href="#R" x="25.2"/><use href="#R" x="26.6"/><use href="#R" x="29.3"/><use href="#R" x="30.6"/><use href="#R" x="34"/><use href="#R" x="40"/><use href="#R" x="44"/><use href="#R" x="50"/><use href="#R" x="56"/><use href="#R" x="60"/>
<use href="#Y" x="3"/><use href="#Y" x="11"/><use href="#Y" x="22"/><use href="#Y" x="24.6"/><use href="#Y" x="27.2"/><use href="#Y" x="28.6"/><use href="#Y" x="31.3"/><use href="#o8" x="32" y="30" fill="#fe0"/><use href="#o8" x="48" y="30" fill="#fe0"/>
<use href="#B" x="8"/><use href="#B" x="14"/><use href="#B" x="18"/><use href="#B" x="23"/><use href="#B" x="28"/><use href="#B" x="32"/><use href="#B" x="36"/><use href="#B" x="54"/><use href="#B" x="58"/><use href="#B" x="62"/>
<use href="#O"/><use href="#O" x="6"/><use href="#O" x="16"/><use href="#O" x="24"/><use href="#O" x="38"/><use href="#O" x="42"/><use href="#O" x="46"/><use href="#O" x="48"/><use href="#O" x="52"/>
</g>
<text class="mn" y="-7"><tspan x="32.2">77</tspan><tspan x="274.8">78</tspan><tspan x="517.3">79</tspan><tspan x="759.9">80</tspan></text>
<text class="s1" y="76"><tspan x="272.6">400</tspan><tspan x="515.1">500</tspan><tspan x="757.7">400</tspan><tspan x="1000.2">400</tspan></text>
<text class="s2" y="89.5"><tspan x="272.6">97419</tspan><tspan x="515.1">99419</tspan><tspan x="757.7">145919</tspan><tspan x="1000.2">147519</tspan></text>
<text class="s3" y="102.8"><tspan x="272.6">0.00%</tspan><tspan x="515.1">0.00%</tspan><tspan x="757.7">0.00%</tspan><tspan x="1000.2">0.00%</tspan></text>
</g>

<g id="row21" transform="translate(0 3025.7)">
<use href="#row"/>
<g transform="translate(31.7 0) scale(15.16 1)"><use href="#N5"/></g>
<text class="mn" y="-7"><tspan x="32.2">81</tspan><tspan x="274.8">82</tspan><tspan x="517.3">83</tspan><tspan x="759.9">84</tspan></text>
<text class="s1" y="76"><tspan x="272.6">400</tspan><tspan x="515.1">400</tspan><tspan x="757.7">400</tspan><tspan x="1000.2">400</tspan></text>
<text class="s2" y="89.5"><tspan x="272.6">149119</tspan><tspan x="515.1">150719</tspan><tspan x="757.7">152319</tspan><tspan x="1000.2">153919</tspan></text>
<text class="s3" y="102.8"><tspan x="272.6">0.00%</tspan><tspan x="515.1">0.00%</tspan><tspan x="757.7">0.00%</tspan><tspan x="1000.2">0.00%</tspan></text>
</g>

<g id="row22" transform="translate(0 3166.7)">
<rect class="yl" x="759.4" y="-10" width="226.1" height="81"/>
<use href="#row"/>
<g transform="translate(31.7 0) scale(15.16 1)">
<use href="#N6a"/>
<use href="#SG" x="50"/><use href="#SG" x="56"/><use href="#SG" x="60"/><use href="#so8" x="48" y="30" fill="#fe0"/><use href="#SB" x="54"/><use href="#SB" x="58"/><use href="#SB" x="62"/><use href="#SO" x="48"/><use href="#SO" x="52"/>
</g>
<rect class="gr" x="759.4" y="0" width="226.1" height="60"/>
<text class="mn" y="-7"><tspan x="32.2">85</tspan><tspan x="274.8">86</tspan><tspan x="517.3">87</tspan><tspan x="759.9">88</tspan></text>
<text class="s1" y="76"><tspan x="272.6">400</tspan><tspan x="515.1">400</tspan><tspan x="757.7">400</tspan><tspan x="1000.2">400</tspan></text>
<text class="s2" y="89.5"><tspan x="272.6">155519</tspan><tspan x="515.1">157119</tspan><tspan x="757.7">158719</tspan><tspan x="1000.2">160319</tspan></text>
<text class="s3" y="102.8"><tspan x="272.6">0.00%</tspan><tspan x="515.1">0.00%</tspan><tspan x="757.7">0.00%</tspan><tspan x="1000.2">25.00%</tspan></text>
</g>

<g id="row23" transform="translate(0 3307.7)">
<use href="#row"/>
<g transform="translate(31.7 0) scale(15.16 1)"><use href="#N7"/></g>
<text class="mn" y="-7"><tspan x="32.2">89</tspan><tspan x="274.8">90</tspan><tspan x="517.3">91</tspan><tspan x="759.9">92</tspan></text>
<text class="s1" y="76"><tspan x="272.6">400</tspan><tspan x="515.1">400</tspan><tspan x="757.7">400</tspan><tspan x="1000.2">400</tspan></text>
<text class="s2" y="89.5"><tspan x="272.6">161919</tspan><tspan x="515.1">163519</tspan><tspan x="757.7">165119</tspan><tspan x="1000.2">166719</tspan></text>
<text class="s3" y="102.8"><tspan x="272.6">25.00%</tspan><tspan x="515.1">25.00%</tspan><tspan x="757.7">25.00%</tspan><tspan x="1000.2">25.00%</tspan></text>
</g>

<g id="row24" transform="translate(0 3448.7)">
<use href="#M" x="31.7"/><use href="#M" x="274.3"/><path class="l8" d="M547.1 0V60M607.8 0V60"/><path class="lb" d="M577.5 0V60"/><use href="#M" x="638.1"/>
<path class="ln" d="M31.7 15H880.7M31.7 30H880.7M31.7 45H880.7"/>
<path class="ml" d="M274.3 0V60M516.8 0V60M638.1 0V60"/>
<rect class="bd" x="31.7" y="0" width="849" height="60"/>
<text class="ts" x="520.5" y="26.5">2</text><text class="ts" x="520.5" y="56.5">4</text>
<text class="ts" x="642" y="26.5">4</text><text class="ts" x="642" y="56.5">4</text>
<text class="tp" x="517.5" y="-21">♩=128</text><text class="tp" x="638.6" y="-21">♩=125</text>
<g transform="translate(31.7 0) scale(15.16 1)">
<rect x="40" y="-3.25" width="16" height="6.5" fill="#0e0"/>
<use href="#gp" fill="#0e0"/><use href="#G" x="18"/><use href="#G" x="30"/><use href="#G" x="34"/><use href="#G" x="38"/><use href="#G" x="40"/>
<use href="#R" x="26"/><use href="#R" x="29"/><use href="#R" x="33"/><use href="#R" x="37"/>
<use href="#o8" y="30" fill="#fe0"/><use href="#Y" x="17"/><use href="#Y" x="19"/><use href="#Y" x="21"/><use href="#Y" x="23"/><use href="#Y" x="25"/><use href="#Y" x="36"/><use href="#Y" x="39"/>
<use href="#B"/><use href="#B" x="4"/><use href="#B" x="10"/><use href="#B" x="16"/><use href="#B" x="20"/><use href="#B" x="28"/><use href="#B" x="31"/>
<use href="#O" x="6"/><use href="#O" x="14"/><use href="#O" x="22"/><use href="#O" x="24"/><use href="#O" x="27"/><use href="#O" x="32"/><use href="#O" x="35"/>
</g>
<text class="mn" y="-7"><tspan x="32.2">93</tspan><tspan x="274.8">94</tspan><tspan x="517.3">95</tspan><tspan x="638.6">96</tspan></text>
<text class="s1" y="76"><tspan x="272.6">400</tspan><tspan x="515.1">400</tspan><tspan x="636.4">200</tspan><tspan x="878.9">73</tspan></text>
<text class="s2" y="89.5"><tspan x="272.6">168319</tspan><tspan x="515.1">169919</tspan><tspan x="636.4">170719</tspan><tspan x="878.9">171011</tspan></text>
<text class="s3" y="102.8"><tspan x="272.6">25.00%</tspan><tspan x="515.1">25.00%</tspan><tspan x="636.4">25.00%</tspan><tspan x="878.9">25.00%</tspan></text>
</g>

<g id="row25" transform="translate(0 3589.7)">
<use href="#row"/>
<g transform="translate(31.7 0) scale(15.16 1)">
<rect x="0" y="-3.25" width="15" height="6.5" fill="#0e0"/>
<use href="#q4" x="16" fill="#0e0"/><use href="#q4" x="32" fill="#0e0"/><use href="#sq4" x="48" fill="#0e0"/>
<use href="#k6" x="16" y="15" fill="#e00"/><use href="#k6" x="32" y="15" fill="#e00"/><use href="#sk6" x="48" y="15" fill="#e00"/>
<use href="#sh6" x="48" y="45" fill="#00e"/>
<use href="#h6" x="16" y="60" fill="#fa0"/><use href="#h6" x="32" y="60" fill="#fa0"/>
</g>
<rect class="gr" x="759.4" y="0" width="226.1" height="60"/>
<text class="mn" y="-7"><tspan x="32.2">97</tspan><tspan x="274.8">98</tspan><tspan x="517.3">99</tspan><tspan x="759.9">100</tspan></text>
<text class="s1" y="76"><tspan x="272.6">45</tspan><tspan x="515.1">400</tspan><tspan x="757.7">400</tspan><tspan x="1000.2">400</tspan></text>
<text class="s2" y="89.5"><tspan x="272.6">171191</tspan><tspan x="515.1">172791</tspan><tspan x="757.7">174391</tspan><tspan x="1000.2">175991</tspan></text>
<text class="s3" y="102.8"><tspan x="272.6">25.00%</tspan><tspan x="515.1">25.00%</tspan><tspan x="757.7">25.00%</tspan><tspan x="1000.2">50.00%</tspan></text>
</g>

<g id="row26" transform="translate(0 3730.7)">
<use href="#row"/>
<g transform="translate(31.7 0) scale(15.16 1)">
<use href="#q4" fill="#0e0"/><use href="#q4" x="16" fill="#0e0"/><use href="#q4" x="48" fill="#0e0"/>
<use href="#k6" y="15" fill="#e00"/><use href="#R" x="32"/><use href="#R" x="38"/><use href="#k6" x="48" y="15" fill="#e00"/>
<use href="#k6" x="16" y="30" fill="#fe0"/><use href="#Y" x="40"/><use href="#Y" x="46"/><use href="#h6" x="48" y="30" fill="#fe0"/>
<use href="#h6" y="45" fill="#00e"/><use href="#k6" x="32" y="45" fill="#00e"/>
<use href="#h6" x="16" y="60" fill="#fa0"/><use href="#h6" x="32" y="60" fill="#fa0"/>
</g>
<text class="mn" y="-7"><tspan x="32.2">101</tspan><tspan x="274.8">102</tspan><tspan x="517.3">103</tspan><tspan x="759.9">104</tspan></text>
<text class="s1" y="76"><tspan x="272.6">400</tspan><tspan x="515.1">400</tspan><tspan x="757.7">400</tspan><tspan x="1000.2">400</tspan></text>
<text class="s2" y="89.5"><tspan x="272.6">177591</tspan><tspan x="515.1">179191</tspan><tspan x="757.7">180791</tspan><tspan x="1000.2">182391</tspan></text>
<text class="s3" y="102.8"><tspan x="272.6">50.00%</tspan><tspan x="515.1">50.00%</tspan><tspan x="757.7">50.00%</tspan><tspan x="1000.2">50.00%</tspan></text>
</g>

<g id="row27" transform="translate(0 3871.7)">
<use href="#row"/>
<g transform="translate(31.7 0) scale(15.16 1)">
<use href="#q4" fill="#0e0"/>
<use href="#k6" y="15" fill="#e00"/><use href="#q4" x="16" y="15" fill="#e00"/><use href="#q4" x="32" y="15" fill="#e00"/><use href="#q4" x="48" y="15" fill="#e00"/>
<use href="#h6" y="30" fill="#fe0"/><use href="#k6" x="16" y="30" fill="#fe0"/><use href="#k6" x="32" y="30" fill="#fe0"/><use href="#k6" x="48" y="30" fill="#fe0"/>
<use href="#h6" x="16" y="45" fill="#00e"/><use href="#h6" x="32" y="45" fill="#00e"/>
<use href="#h6" x="48" y="60" fill="#fa0"/>
</g>
<text class="mn" y="-7"><tspan x="32.2">105</tspan><tspan x="274.8">106</tspan><tspan x="517.3">107</tspan><tspan x="759.9">108</tspan></text>
<text class="s1" y="76"><tspan x="272.6">400</tspan><tspan x="515.1">400</tspan><tspan x="757.7">400</tspan><tspan x="1000.2">400</tspan></text>
<text class="s2" y="89.5"><tspan x="272.6">183991</tspan><tspan x="515.1">185591</tspan><tspan x="757.7">187191</tspan><tspan x="1000.2">188791</tspan></text>
<text class="s3" y="102.8"><tspan x="272.6">50.00%</tspan><tspan x="515.1">50.00%</tspan><tspan x="757.7">50.00%</tspan><tspan x="1000.2">50.00%</tspan></text>
</g>

<g id="row28" transform="translate(0 4012.7)">
<rect class="gb" x="759.4" y="-10" width="242.5" height="81"/>
<use href="#row"/>
<text class="tp" x="759.9" y="-21">♩=127</text>
<g transform="translate(31.7 0) scale(15.16 1)">
<use href="#q4" x="16" fill="#0e0"/><use href="#t24" x="48" fill="#0e0"/>
<use href="#q4" y="30" fill="#fe0"/><use href="#k6" x="16" y="30" fill="#fe0"/>
<use href="#k6" y="45" fill="#00e"/>
<use href="#h6" y="60" fill="#fa0"/><use href="#h6" x="16" y="60" fill="#fa0"/>
</g>
<rect class="pk" x="759.4" y="0" width="1.6" height="60"/>
<rect class="bl" x="761" y="0" width="240.9" height="60"/>
<text class="mn" y="-7"><tspan x="32.2">109</tspan><tspan x="274.8">110</tspan><tspan x="517.3">111</tspan><tspan x="759.9">112</tspan></text>
<text class="s1" y="76"><tspan x="272.6">400</tspan><tspan x="515.1">400</tspan><tspan x="757.7">0</tspan><tspan x="1000.2">600</tspan></text>
<text class="s2" y="89.5"><tspan x="272.6">190391</tspan><tspan x="515.1">191991</tspan><tspan x="757.7">191991</tspan><tspan x="1000.2">196791</tspan></text>
<text class="s3" y="102.8"><tspan x="272.6">50.00%</tspan><tspan x="515.1">50.00%</tspan><tspan x="757.7">50.00%</tspan><tspan x="1000.2">37.62%</tspan></text>
</g>

<g id="row29" transform="translate(0 4153.7)">
<rect class="gb" x="31.7" y="-10" width="970.2" height="81"/>
<use href="#row"/>
<g transform="translate(31.7 0) scale(15.16 1)">
<use href="#t24" fill="#0e0"/><use href="#t24" x="16" y="15" fill="#e00"/><use href="#t24" x="32" y="15" fill="#e00"/><use href="#t24" x="48" y="30" fill="#fe0"/>
</g>
<rect class="bl" x="31.7" y="0" width="970.2" height="60"/>
<text class="mn" y="-7"><tspan x="32.2">113</tspan><tspan x="274.8">114</tspan><tspan x="517.3">115</tspan><tspan x="759.9">116</tspan></text>
<text class="s1" y="76"><tspan x="272.6">600</tspan><tspan x="515.1">600</tspan><tspan x="757.7">600</tspan><tspan x="1000.2">600</tspan></text>
<text class="s2" y="89.5"><tspan x="272.6">201591</tspan><tspan x="515.1">206391</tspan><tspan x="757.7">211191</tspan><tspan x="1000.2">215991</tspan></text>
<text class="s3" y="102.8"><tspan x="272.6">25.12%</tspan><tspan x="515.1">12.62%</tspan><tspan x="757.7">0.12%</tspan><tspan x="1000.2">0.00%</tspan></text>
</g>

<g id="row30" transform="translate(0 4294.7)">
<rect class="gb" x="31.7" y="-10" width="970.2" height="81"/>
<rect class="yl" x="274.3" y="-10" width="230.7" height="81"/>
<use href="#row"/>
<g transform="translate(31.7 0) scale(15.16 1)">
<use href="#t12" y="30" fill="#fe0"/><use href="#t12" x="8" y="60" fill="#fa0"/><use href="#st12" x="16" y="45" fill="#00e"/><use href="#st12" x="24" y="15" fill="#e00"/><use href="#t24" x="32" fill="#0e0"/><use href="#t24" x="48" y="45" fill="#00e"/>
</g>
<rect class="bl" x="31.7" y="0" width="242.6" height="60"/>
<rect class="pk" x="274.3" y="0" width="9.5" height="60"/>
<rect class="gr" x="274.3" y="0" width="230.7" height="60"/>
<text class="mn" y="-7"><tspan x="32.2">117</tspan><tspan x="274.8">118</tspan><tspan x="517.3">119</tspan><tspan x="759.9">120</tspan></text>
<text class="s1" y="76"><tspan x="272.6">600</tspan><tspan x="515.1">600</tspan><tspan x="757.7">600</tspan><tspan x="1000.2">600</tspan></text>
<text class="s2" y="89.5"><tspan x="272.6">220791</tspan><tspan x="515.1">223391</tspan><tspan x="757.7">225791</tspan><tspan x="1000.2">228191</tspan></text>
<text class="s3" y="102.8"><tspan x="272.6">0.00%</tspan><tspan x="515.1">25.00%</tspan><tspan x="757.7">25.00%</tspan><tspan x="1000.2">25.00%</tspan></text>
</g>

<g id="row31" transform="translate(0 4435.7)">
<rect class="gb" x="31.7" y="-10" width="970.2" height="81"/>
<use href="#row"/>
<g transform="translate(31.7 0) scale(15.16 1)">
<use href="#t24" fill="#0e0"/><use href="#G" x="62"/><use href="#G" x="62.6667"/><use href="#G" x="63.3333"/>
<use href="#t12" x="16" y="15" fill="#e00"/><use href="#R" x="60"/><use href="#R" x="60.6667"/><use href="#R" x="61.3333"/>
<use href="#t12" x="24" y="30" fill="#fe0"/><use href="#t24" x="44" y="30" fill="#fe0"/>
<use href="#t6" x="32" y="45" fill="#00e"/><use href="#t6" x="40" y="45" fill="#00e"/>
<use href="#t6" x="36" y="60" fill="#fa0"/>
</g>
<text class="mn" y="-7"><tspan x="32.2">121</tspan><tspan x="274.8">122</tspan><tspan x="517.3">123</tspan><tspan x="759.9">124</tspan></text>
<text class="s1" y="76"><tspan x="272.6">600</tspan><tspan x="515.1">600</tspan><tspan x="757.7">600</tspan><tspan x="1000.2">600</tspan></text>
<text class="s2" y="89.5"><tspan x="272.6">230591</tspan><tspan x="515.1">232991</tspan><tspan x="757.7">235391</tspan><tspan x="1000.2">237791</tspan></text>
<text class="s3" y="102.8"><tspan x="272.6">25.00%</tspan><tspan x="515.1">25.00%</tspan><tspan x="757.7">25.00%</tspan><tspan x="1000.2">25.00%</tspan></text>
</g>

<g id="row32" transform="translate(0 4576.7)">
<rect class="gb" x="31.7" y="-10" width="727.7" height="81"/>
<use href="#row"/>
<g transform="translate(31.7 0) scale(15.16 1)">
<use href="#t24" y="15" fill="#e00"/><use href="#t24" x="16" fill="#0e0"/><use href="#t12" x="32" y="30" fill="#fe0"/><use href="#t6" x="40" y="45" fill="#00e"/><use href="#t6" x="44" y="60" fill="#fa0"/>
<use href="#B" x="48"/><use href="#B" x="52"/><use href="#O" x="54"/><use href="#O" x="58"/><use href="#O" x="62"/><use href="#R" x="50"/><use href="#R" x="56"/><use href="#R" x="60"/><use href="#o8" x="48" y="30" fill="#fe0"/>
</g>
<rect class="pk" x="243" y="0" width="2" height="60"/>
<rect class="bl" x="245" y="0" width="756.9" height="60"/>
<text class="mn" y="-7"><tspan x="32.2">125</tspan><tspan x="274.8">126</tspan><tspan x="517.3">127</tspan><tspan x="759.9">128</tspan></text>
<text class="s1" y="76"><tspan x="272.6">600</tspan><tspan x="515.1">600</tspan><tspan x="757.7">600</tspan><tspan x="1000.2">400</tspan></text>
<text class="s2" y="89.5"><tspan x="272.6">240491</tspan><tspan x="515.1">245291</tspan><tspan x="757.7">250091</tspan><tspan x="1000.2">291691</tspan></text>
<text class="s3" y="102.8"><tspan x="272.6">23.63%</tspan><tspan x="515.1">11.13%</tspan><tspan x="757.7">0.00%</tspan><tspan x="1000.2">0.00%</tspan></text>
</g>

<g id="row33" transform="translate(0 4717.7)">
<use href="#row"/>
<g transform="translate(31.7 0) scale(15.16 1)">
<use href="#SR" x="2"/><use href="#SR" x="8"/><use href="#SR" x="12"/><use href="#so8" y="30" fill="#fe0"/><use href="#SB" x="6"/><use href="#SB" x="10"/><use href="#SB" x="14"/><use href="#SO"/><use href="#SO" x="4"/>
<use href="#gp" x="16" fill="#0e0"/><use href="#gp" x="32" fill="#0e0"/><use href="#gp" x="48" fill="#0e0"/>
<use href="#o8" x="16" y="15" fill="#e00"/><use href="#o8" x="32" y="15" fill="#e00"/><use href="#o8" x="48" y="15" fill="#e00"/>
<use href="#Y" x="32"/><use href="#Y" x="36"/><use href="#Y" x="54"/><use href="#Y" x="58"/>
<use href="#B" x="16"/><use href="#B" x="20"/><use href="#B" x="38"/><use href="#B" x="42"/><use href="#B" x="46"/><use href="#B" x="52"/><use href="#B" x="62"/>
<use href="#O" x="22"/><use href="#O" x="26"/><use href="#O" x="30"/><use href="#O" x="48"/>
</g>
<rect class="gr" x="31.7" y="0" width="227" height="60"/>
<rect class="bl" x="31.7" y="0" width="701" height="60"/>
<rect class="pk" x="732.7" y="0" width="11.9" height="60"/>
<text class="mn" y="-7"><tspan x="32.2">129</tspan><tspan x="274.8">130</tspan><tspan x="517.3">131</tspan><tspan x="759.9">132</tspan></text>
<text class="s1" y="76"><tspan x="272.6">400</tspan><tspan x="515.1">400</tspan><tspan x="757.7">400</tspan><tspan x="1000.2">400</tspan></text>
<text class="s2" y="89.5"><tspan x="272.6">294891</tspan><tspan x="515.1">298091</tspan><tspan x="757.7">301291</tspan><tspan x="1000.2">302891</tspan></text>
<text class="s3" y="102.8"><tspan x="272.6">24.22%</tspan><tspan x="515.1">11.72%</tspan><tspan x="757.7">0.00%</tspan><tspan x="1000.2">0.00%</tspan></text>
</g>

<g id="row34" transform="translate(0 4858.7)">
<use href="#row"/>
<g transform="translate(31.7 0) scale(15.16 1)">
<use href="#gp" fill="#0e0"/><use href="#gp" x="16" fill="#0e0"/><use href="#gp" x="48" fill="#0e0"/>
<use href="#o8" y="15" fill="#e00"/><use href="#o8" x="16" y="15" fill="#e00"/><use href="#R" x="34"/><use href="#R" x="40"/><use href="#R" x="44"/>
<use href="#Y" x="6"/><use href="#Y" x="10"/><use href="#Y" x="22"/><use href="#Y" x="26"/><use href="#o8" x="32" y="30" fill="#fe0"/><use href="#o8" x="48" y="30" fill="#fe0"/>
<use href="#B" x="4"/><use href="#B" x="14"/><use href="#B" x="20"/><use href="#B" x="30"/><use href="#B" x="36"/><use href="#B" x="42"/><use href="#B" x="46"/><use href="#B" x="48"/><use href="#B" x="52"/>
<use href="#O"/><use href="#O" x="16"/><use href="#O" x="32"/><use href="#O" x="38"/><use href="#O" x="54"/><use href="#O" x="58"/><use href="#O" x="62"/>
</g>
<text class="mn" y="-7"><tspan x="32.2">133</tspan><tspan x="274.8">134</tspan><tspan x="517.3">135</tspan><tspan x="759.9">136</tspan></text>
<text class="s1" y="76"><tspan x="272.6">400</tspan><tspan x="515.1">400</tspan><tspan x="757.7">400</tspan><tspan x="1000.2">400</tspan></text>
<text class="s2" y="89.5"><tspan x="272.6">304491</tspan><tspan x="515.1">306091</tspan><tspan x="757.7">307691</tspan><tspan x="1000.2">309291</tspan></text>
<text class="s3" y="102.8"><tspan x="272.6">0.00%</tspan><tspan x="515.1">0.00%</tspan><tspan x="757.7">0.00%</tspan><tspan x="1000.2">0.00%</tspan></text>
</g>

<g id="row35" transform="translate(0 4999.7)">
<use href="#row"/>
<g transform="translate(31.7 0) scale(15.16 1)">
<use href="#gp4" fill="#0e0"/>
<use href="#o8" x="16" y="15" fill="#e00"/><use href="#o8" x="32" y="15" fill="#e00"/><use href="#o8" x="48" y="15" fill="#e00"/>
<use href="#o8" y="30" fill="#fe0"/><use href="#Y" x="32"/><use href="#Y" x="36"/><use href="#Y" x="52"/><use href="#Y" x="58"/><use href="#Y" x="62"/>
<use href="#B" x="6"/><use href="#B" x="10"/><use href="#B" x="14"/><use href="#B" x="16"/><use href="#B" x="20"/><use href="#B" x="38"/><use href="#B" x="42"/><use href="#B" x="46"/><use href="#B" x="54"/>
<use href="#O"/><use href="#O" x="4"/><use href="#O" x="22"/><use href="#O" x="26"/><use href="#O" x="30"/><use href="#O" x="48"/>
</g>
<text class="mn" y="-7"><tspan x="32.2">137</tspan><tspan x="274.8">138</tspan><tspan x="517.3">139</tspan><tspan x="759.9">140</tspan></text>
<text class="s1" y="76"><tspan x="272.6">400</tspan><tspan x="515.1">400</tspan><tspan x="757.7">400</tspan><tspan x="1000.2">400</tspan></text>
<text class="s2" y="89.5"><tspan x="272.6">310891</tspan><tspan x="515.1">312491</tspan><tspan x="757.7">314091</tspan><tspan x="1000.2">315691</tspan></text>
<text class="s3" y="102.8"><tspan x="272.6">0.00%</tspan><tspan x="515.1">0.00%</tspan><tspan x="757.7">0.00%</tspan><tspan x="1000.2">0.00%</tspan></text>
</g>

<g id="row36" transform="translate(0 5140.7)">
<use href="#M" x="31.7"/><use href="#M" x="274.3"/><use href="#M" x="516.8"/>
<path class="ln" d="M31.7 15H759.4M31.7 30H759.4M31.7 45H759.4"/>
<path class="ml" d="M274.3 0V60M516.8 0V60"/>
<rect class="bd" x="31.7" y="0" width="727.7" height="60"/>
<g transform="translate(31.7 0) scale(15.16 1)">
<use href="#gp" fill="#0e0"/><use href="#gp" x="16" fill="#0e0"/><use href="#G" x="34"/><use href="#G" x="46"/>
<use href="#o8" y="15" fill="#e00"/><use href="#R" x="42"/><use href="#R" x="45"/>
<use href="#Y" x="6"/><use href="#o8" x="16" y="30" fill="#fe0"/><use href="#Y" x="33"/><use href="#Y" x="35"/><use href="#Y" x="37"/><use href="#Y" x="39"/><use href="#Y" x="41"/>
<use href="#B" x="4"/><use href="#B" x="10"/><use href="#B" x="16"/><use href="#B" x="20"/><use href="#B" x="26"/><use href="#B" x="32"/><use href="#B" x="36"/><use href="#B" x="44"/><use href="#B" x="47"/>
<use href="#O"/><use href="#O" x="14"/><use href="#O" x="22"/><use href="#O" x="30"/><use href="#O" x="38"/><use href="#O" x="40"/><use href="#O" x="43"/>
</g>
<text class="mn" y="-7"><tspan x="32.2">141</tspan><tspan x="274.8">142</tspan><tspan x="517.3">143</tspan></text>
<text class="s1" y="76"><tspan x="272.6">400</tspan><tspan x="515.1">400</tspan><tspan x="757.7">400</tspan></text>
<text class="s2" y="89.5"><tspan x="272.6">317291</tspan><tspan x="515.1">318891</tspan><tspan x="757.7">320491</tspan></text>
<text class="s3" y="102.8"><tspan x="272.6">0.00%</tspan><tspan x="515.1">0.00%</tspan><tspan x="757.7">0.00%</tspan></text>
</g>
</g>
</svg>
